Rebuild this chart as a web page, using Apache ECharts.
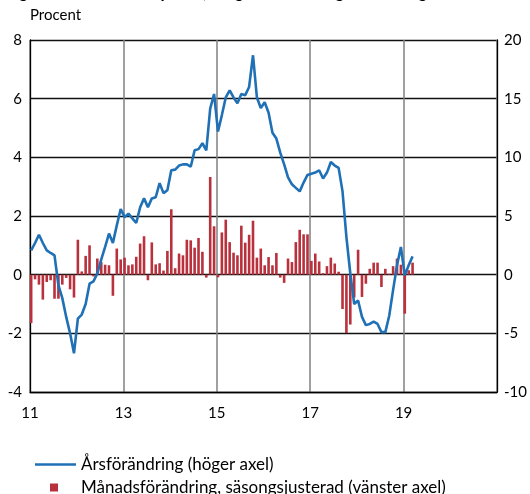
<!DOCTYPE html>
<html>
<head>
<meta charset="utf-8">
<script src="https://cdn.jsdelivr.net/npm/echarts@6/dist/echarts.min.js"></script>
<style>
  html, body { margin: 0; padding: 0; background: #fff; }
  #chart { width: 530px; height: 494px; }
</style>
</head>
<body>
<div id="chart"></div>
<script>
// monthly observations, Jan 2011 .. Mar 2019
var startYear = 11
var xTicks = [11, 13, 15, 17, 19]

// Månadsförändring, säsongsjusterad (vänster axel), procent
var monthly = [
  -1.65, -0.16, -0.34, -0.85, -0.25, -0.19, -0.82, -0.82, -0.34, -0.11, -0.5, -0.78,
  1.19, 0.11, 0.64, 1.0, -0.06, 0.55, 0.43, 0.34, 0.32, -0.72, 0.89, 0.52,
  0.58, 0.32, 0.35, 0.61, 1.06, 1.31, -0.19, 1.1, 0.35, 0.39, 0.14, 0.81,
  2.23, 0.22, 0.72, 0.66, 1.19, 1.17, 0.92, 1.25, 0.78, -0.1, 3.33, 1.65,
  -0.09, 1.44, 1.875, 1.11, 0.75, 0.66, 1.67, 1.09, 1.36, 1.84, 0.58, 0.89,
  0.32, 0.6, 0.32, 0.74, -0.1, -0.28, 0.55, 0.43, 1.11, 1.53, 1.375, 1.375,
  0.47, 0.72, 0.45, 0.05, 0.29, 0.58, 0.38, 0.1, -1.17, -1.99, -1.7, -0.78,
  0.85, -0.76, -0.31, 0.2, 0.41, 0.41, -0.42, 0.2, 0.03, 0.29, 0.55, 0.34,
  -1.33, 0.15, 0.41
]

// Årsförändring (höger axel), procent
var annual = [
  2.07, 2.7, 3.4, 2.7, 2.07, 1.85, 1.65, -0.9, -2.0, -3.6, -5.0, -6.7,
  -3.75, -3.4, -2.5, -0.77, -0.57, 0.1, 1.28, 2.36, 3.5, 2.7, 4.2, 5.6,
  4.9, 5.2, 4.8, 4.4, 5.75, 6.5, 5.75, 6.5, 6.6, 7.8, 6.95, 7.2,
  8.9, 8.95, 9.3, 9.4, 9.4, 9.2, 10.6, 10.7, 11.2, 10.6, 14.15, 15.4,
  12.2, 13.6, 15.1, 15.7, 15.1, 14.6, 15.4, 15.3, 16.0, 18.7, 15.1, 14.2,
  14.7, 13.8, 12.1, 11.6, 10.4, 9.4, 8.3, 7.7, 7.4, 7.1, 7.85, 8.5,
  8.6, 8.7, 8.9, 8.2, 8.7, 9.6, 9.3, 9.1, 7.1, 3.2, 0.1, -2.5,
  -2.2, -3.6, -4.3, -4.2, -4.0, -4.2, -4.9, -4.9, -3.5, -1.3, 0.8, 2.36,
  -0.06, 0.8, 1.56
]

var lineName = 'Årsförändring (höger axel)'
var barName = 'Månadsförändring, säsongsjusterad (vänster axel)'

function monthX(i) {
  return startYear + (i + 0.3) / 12
}

var font = 'Lato, "Open Sans", sans-serif'

var chart = echarts.init(document.getElementById('chart'))
chart.setOption({
  animation: false,
  title: {
    text: 'Figur 6. Bostadsrättspriser, årlig och månatlig förändring',
    left: 0,
    top: -21,
    textStyle: { fontFamily: font, fontSize: 17, fontWeight: 'bold', color: '#000' }
  },
  graphic: [
    {
      type: 'text',
      left: 30,
      top: 8,
      style: { text: 'Procent', font: '15px ' + font, fill: '#000' }
    }
  ],
  grid: {
    left: 30,
    right: 31,
    top: 40,
    bottom: 102
  },
  legend: [
    {
      data: [lineName],
      left: 30,
      top: 451,
      icon: 'rect',
      itemWidth: 41,
      itemHeight: 2.5,
      textStyle: { fontFamily: font, fontSize: 17, color: '#000' }
    },
    {
      data: [barName],
      left: 45,
      top: 474,
      icon: 'rect',
      itemWidth: 8,
      itemHeight: 8,
      textStyle: { fontFamily: font, fontSize: 17, color: '#000', padding: [0, 0, 0, 18] }
    }
  ],
  xAxis: {
    type: 'value',
    min: 11,
    max: 21,
    interval: 2,
    axisLine: { show: true, onZero: false, lineStyle: { color: '#000', width: 1.3 } },
    axisTick: { show: false },
    axisLabel: {
      margin: 14,
      fontFamily: font,
      fontSize: 15,
      color: '#000',
      formatter: function (v) {
        return xTicks.indexOf(v) > -1 ? String(v) : ''
      }
    },
    splitLine: { show: true, lineStyle: { color: '#808080', width: 1.5 } }
  },
  yAxis: [
    {
      type: 'value',
      min: -4,
      max: 8,
      interval: 2,
      axisLine: { show: true, lineStyle: { color: '#000', width: 1.3 } },
      axisTick: { show: false },
      axisLabel: { margin: 8, fontFamily: font, fontSize: 15, color: '#000' },
      splitLine: { show: true, lineStyle: { color: '#111', width: 1.4 } }
    },
    {
      type: 'value',
      min: -10,
      max: 20,
      interval: 5,
      position: 'right',
      axisLine: { show: true, lineStyle: { color: '#000', width: 1.3 } },
      axisTick: { show: false },
      axisLabel: { margin: 7, fontFamily: font, fontSize: 15, color: '#000' },
      splitLine: { show: false }
    }
  ],
  series: [
    {
      name: barName,
      type: 'bar',
      yAxisIndex: 0,
      barWidth: 2.6,
      itemStyle: { color: '#b8313c' },
      data: monthly.map(function (v, i) { return [monthX(i), v] }),
      z: 2
    },
    {
      name: lineName,
      type: 'line',
      yAxisIndex: 1,
      symbol: 'none',
      lineStyle: { color: '#1f70b5', width: 2.6 },
      itemStyle: { color: '#1f70b5' },
      data: annual.map(function (v, i) { return [monthX(i), v] }),
      z: 3
    }
  ]
})
</script>
</body>
</html>
